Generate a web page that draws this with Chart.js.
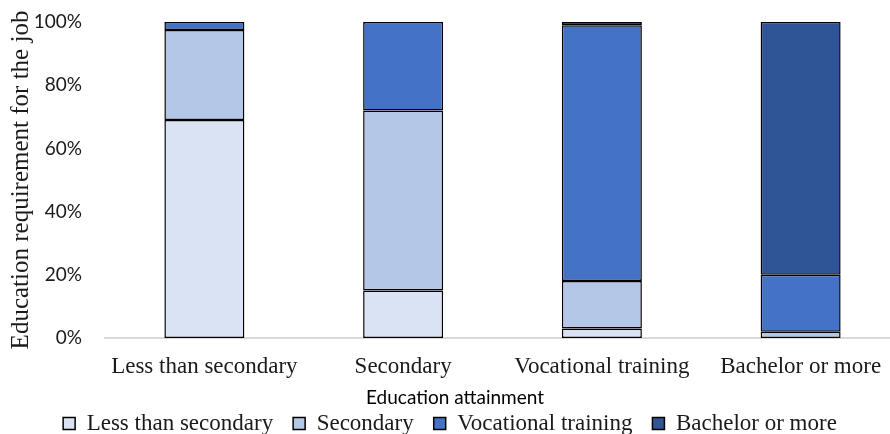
<!DOCTYPE html>
<html>
<head>
<meta charset="utf-8">
<script src="https://cdn.jsdelivr.net/npm/chart.js@4"></script>
<style>
  html, body { margin: 0; padding: 0; background: #fff; overflow: hidden; }
  #wrap { width: 900px; height: 434px; }
</style>
</head>
<body>
<div id="wrap"><canvas id="eduChart"></canvas></div>
<script>
const attainment = ['Less than secondary', 'Secondary', 'Vocational training', 'Bachelor or more'];

// share of workers by the education the job requires (%)
const reqLessSecondary = [69, 15, 3, null];
const reqSecondary     = [28.5, 57, 15, 2];
const reqVocational    = [2.5, 28, 81, 18];
const reqBachelor      = [null, null, 1, 80];

const yTicks = [0, 20, 40, 60, 80, 100];

const serif = "'Liberation Serif', 'DejaVu Serif', serif";
const sans = "Lato, 'Open Sans', sans-serif";

function series(label, data, color) {
    return {
        label: label,
        data: data,
        backgroundColor: color,
        borderColor: '#000000',
        borderWidth: 1.5,
        borderSkipped: false,
        categoryPercentage: 0.4025,
        barPercentage: 1.0
    };
}

// x-axis title sits a little left of the plot centre, drawn by hand;
// the legend box is trimmed so it hugs the bottom edge
const layoutPlugin = {
    id: 'eduLayout',
    beforeLayout: function (chart) {
        const legend = chart.legend;
        if (legend && !legend._trimmed) {
            const fit = legend.fit;
            legend.fit = function () {
                fit.call(this);
                this.height = 42;
            };
            legend._trimmed = true;
        }
    },
    afterDraw: function (chart) {
        const ctx = chart.ctx;
        ctx.save();
        ctx.font = '19px ' + sans;
        ctx.fillStyle = '#000000';
        ctx.textAlign = 'center';
        ctx.textBaseline = 'middle';
        ctx.fillText('Education attainment', 455, 398);
        ctx.restore();
    }
};

new Chart(document.getElementById('eduChart'), {
    type: 'bar',
    data: {
        labels: attainment,
        datasets: [
            series('Less than secondary', reqLessSecondary, '#dae3f3'),
            series('Secondary', reqSecondary, '#b4c7e7'),
            series('Vocational training', reqVocational, '#4472c4'),
            series('Bachelor or more', reqBachelor, '#2f5597')
        ]
    },
    plugins: [layoutPlugin],
    options: {
        responsive: true,
        maintainAspectRatio: false,
        animation: false,
        layout: { padding: 0 },
        plugins: {
            legend: {
                position: 'bottom',
                labels: {
                    boxWidth: 12,
                    boxHeight: 12,
                    padding: 20,
                    color: '#1a1a1a',
                    font: { family: serif, size: 23 }
                }
            },
            tooltip: { enabled: false }
        },
        scales: {
            x: {
                stacked: true,
                grid: { display: false, drawTicks: false },
                border: { color: '#d9d9d9', width: 2 },
                ticks: {
                    color: '#1a1a1a',
                    padding: 15,
                    maxRotation: 0,
                    font: { family: serif, size: 23 }
                },
                afterFit: function (scale) { scale.height = 54; }
            },
            y: {
                stacked: true,
                min: 0,
                max: 100,
                afterBuildTicks: function (axis) {
                    axis.ticks = yTicks.map(function (v) { return { value: v }; });
                },
                grid: { display: false, drawTicks: false },
                border: { display: false },
                ticks: {
                    color: '#1a1a1a',
                    padding: 23,
                    font: { family: sans, size: 19 },
                    callback: function (v) { return v + '%'; }
                },
                title: {
                    display: true,
                    text: 'Education requirement for the job',
                    color: '#1a1a1a',
                    padding: { top: 6, bottom: 0 },
                    font: { family: serif, size: 25 }
                },
                afterFit: function (scale) {
                    scale.width = 105;
                    scale.paddingTop = 22;
                    scale.paddingBottom = 12;
                }
            }
        }
    }
});
</script>
</body>
</html>
